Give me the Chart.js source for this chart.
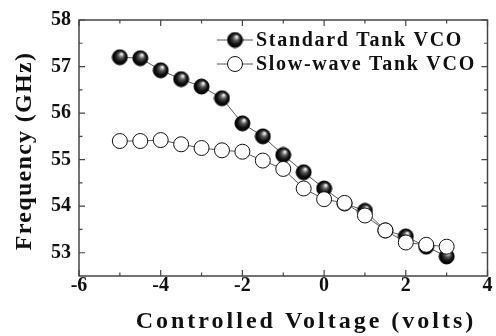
<!DOCTYPE html>
<html>
<head>
<meta charset="utf-8">
<script src="https://cdn.jsdelivr.net/npm/chart.js@4.4.1/dist/chart.umd.min.js"></script>
<style>
  html, body { margin: 0; padding: 0; background: #fff; }
  #wrap { width: 496px; height: 336px; }
</style>
</head>
<body>
<div id="wrap"><canvas id="vcoChart"></canvas></div>
<script>
const voltage = [-5, -4.5, -4, -3.5, -3, -2.5, -2, -1.5, -1, -0.5, 0, 0.5, 1, 1.5, 2, 2.5, 3];
const standardFreq = [57.2, 57.18, 56.92, 56.73, 56.57, 56.32, 55.78, 55.5, 55.1, 54.73, 54.38, 54.06, 53.9, 53.48, 53.35, 53.13, 52.92];
const slowWaveFreq = [55.4, 55.4, 55.42, 55.33, 55.25, 55.2, 55.17, 54.98, 54.8, 54.38, 54.15, 54.07, 53.8, 53.48, 53.22, 53.17, 53.13];
const xTicks = [-6, -4, -2, 0, 2, 4];
const yTicks = [53, 54, 55, 56, 57, 58];

const FONT = "'Liberation Serif', 'Times New Roman', serif";

// shaded black ball used for the standard tank markers
function makeBall(r) {
    const c = document.createElement("canvas");
    c.width = c.height = r * 2 + 2;
    const g = c.getContext("2d");
    const cx = r + 1, cy = r + 1;
    const grad = g.createRadialGradient(cx + r * 0.25, cy - r * 0.45, 0.5, cx, cy, r);
    grad.addColorStop(0, "#f4f4f4");
    grad.addColorStop(0.35, "#555");
    grad.addColorStop(0.7, "#111");
    grad.addColorStop(1, "#000");
    g.fillStyle = grad;
    g.beginPath();
    g.arc(cx, cy, r, 0, Math.PI * 2);
    g.fill();
    g.strokeStyle = "#000";
    g.lineWidth = 1;
    g.stroke();
    return c;
}
const ball = makeBall(7.5);

function pts(ys) {
    return voltage.map((v, i) => ({ x: v, y: ys[i] }));
}

const framePlugin = {
    id: "frame",
    beforeDatasetsDraw(chart) {
        const { ctx, chartArea: a, scales } = chart;
        ctx.save();
        ctx.strokeStyle = "#444";
        ctx.lineWidth = 1.5;
        ctx.strokeRect(a.left, a.top, a.right - a.left, a.bottom - a.top);
        ctx.lineWidth = 1.2;
        ctx.beginPath();
        // x ticks, inward, top and bottom
        for (let v = -6; v <= 4; v += 1) {
            const px = scales.x.getPixelForValue(v);
            const len = v % 2 === 0 ? 6 : 3.5;
            ctx.moveTo(px, a.bottom); ctx.lineTo(px, a.bottom - len);
            ctx.moveTo(px, a.top); ctx.lineTo(px, a.top + len);
        }
        // y ticks, inward, left and right
        for (let v = 53; v <= 58; v += 0.5) {
            const py = scales.y.getPixelForValue(v);
            const len = Number.isInteger(v) ? 6 : 3.5;
            ctx.moveTo(a.left, py); ctx.lineTo(a.left + len, py);
            ctx.moveTo(a.right, py); ctx.lineTo(a.right - len, py);
        }
        ctx.stroke();
        ctx.restore();
    },
    afterDraw(chart) {
        const { ctx } = chart;
        ctx.save();
        ctx.fillStyle = "#111";
        // axis titles
        ctx.font = "bold 24px " + FONT;
        ctx.letterSpacing = "3px";
        ctx.textAlign = "center";
        ctx.textBaseline = "alphabetic";
        ctx.fillText("Controlled Voltage (volts)", 306, 328);
        ctx.letterSpacing = "1.3px";
        ctx.translate(31, 151);
        ctx.rotate(-Math.PI / 2);
        ctx.fillText("Frequency (GHz)", 0, 0);
        ctx.restore();

        // legend
        ctx.save();
        const rows = [
            { label: "Standard Tank VCO", y: 40, filled: true },
            { label: "Slow-wave Tank VCO", y: 64, filled: false }
        ];
        ctx.font = "bold 20px " + FONT;
        ctx.letterSpacing = "1.7px";
        ctx.textAlign = "left";
        ctx.textBaseline = "middle";
        rows.forEach(r => {
            ctx.strokeStyle = "#555";
            ctx.lineWidth = 1;
            ctx.beginPath();
            ctx.moveTo(217, r.y); ctx.lineTo(253, r.y);
            ctx.stroke();
            if (r.filled) {
                ctx.drawImage(ball, 235 - ball.width / 2, r.y - ball.height / 2);
            } else {
                ctx.fillStyle = "#fff";
                ctx.beginPath();
                ctx.arc(235, r.y, 7.5, 0, Math.PI * 2);
                ctx.fill();
                ctx.strokeStyle = "#111";
                ctx.stroke();
            }
            ctx.fillStyle = "#111";
            ctx.fillText(r.label, 256, r.y + 1);
        });
        ctx.restore();
    }
};

const ctx = document.getElementById("vcoChart").getContext("2d");
new Chart(ctx, {
    type: "line",
    data: {
        datasets: [
            {
                label: "Slow-wave Tank VCO",
                data: pts(slowWaveFreq),
                borderColor: "#555",
                borderWidth: 1,
                pointStyle: "circle",
                pointRadius: 7.5,
                pointBackgroundColor: "#fff",
                pointBorderColor: "#111",
                pointBorderWidth: 1,
                tension: 0,
                order: 0
            },
            {
                label: "Standard Tank VCO",
                data: pts(standardFreq),
                borderColor: "#555",
                borderWidth: 1,
                pointStyle: ball,
                pointRadius: 7.5,
                tension: 0,
                order: 1
            }
        ]
    },
    options: {
        responsive: true,
        maintainAspectRatio: false,
        animation: false,
        layout: { padding: { top: 16, right: 4, left: 0, bottom: 0 } },
        plugins: {
            legend: { display: false },
            tooltip: { enabled: false }
        },
        scales: {
            x: {
                type: "linear",
                min: -6,
                max: 4,
                afterBuildTicks: s => { s.ticks = xTicks.map(v => ({ value: v })); },
                afterFit: s => { s.height = 60; },
                grid: { display: false, drawTicks: false },
                border: { display: false },
                ticks: {
                    padding: -2,
                    color: "#111",
                    font: { family: FONT, size: 20, weight: "bold" },
                    maxRotation: 0
                }
            },
            y: {
                min: 52.5,
                max: 58,
                afterBuildTicks: s => { s.ticks = yTicks.map(v => ({ value: v })); },
                afterFit: s => { s.width = 79; },
                grid: { display: false, drawTicks: false },
                border: { display: false },
                ticks: {
                    padding: 8,
                    color: "#111",
                    font: { family: FONT, size: 20, weight: "bold" }
                }
            }
        }
    },
    plugins: [framePlugin]
});
</script>
</body>
</html>
